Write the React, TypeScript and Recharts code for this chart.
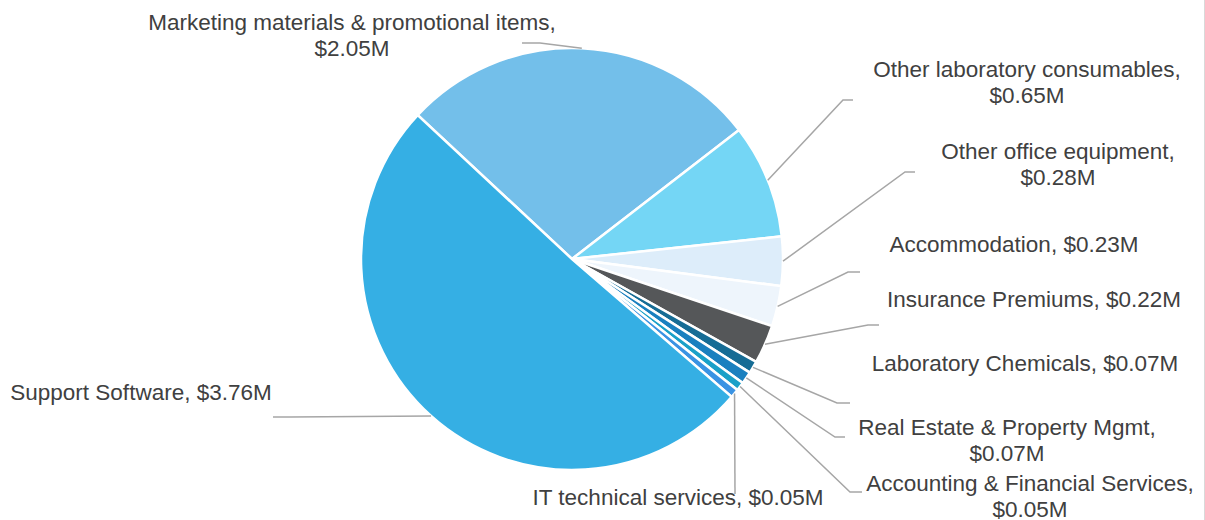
import React from 'react';
import { PieChart, Pie, Cell } from 'recharts';

const categories = [
  'Marketing materials & promotional items',
  'Other laboratory consumables',
  'Other office equipment',
  'Accommodation',
  'Insurance Premiums',
  'Laboratory Chemicals',
  'Real Estate & Property Mgmt',
  'Accounting & Financial Services',
  'IT technical services',
  'Support Software',
];

const spend = [2.05, 0.65, 0.28, 0.23, 0.22, 0.07, 0.07, 0.05, 0.05, 3.76];

const COLORS = [
  '#73BFEA',
  '#74D6F5',
  '#DDEDFA',
  '#EEF5FC',
  '#555759',
  '#166C95',
  '#1A80BF',
  '#1AA0C8',
  '#3A93E3',
  '#35AFE4',
];

// label placement relative to the pie centre (Excel-style outside labels)
// tx/ty: text centre + first baseline, ex/ey: elbow of leader, lx: leader end
const LABEL_LAYOUT = [
  { tx: -220, ty: -229, ex: -32, ey: -216, lx: -50, wrap: true },
  { tx: 455, ty: -182, ex: 271, ey: -159, lx: 281, wrap: true },
  { tx: 486, ty: -100, ex: 333, ey: -87, lx: 343, wrap: true },
  { tx: 442, ty: -7, ex: 276, ey: 13, lx: 288, wrap: false },
  { tx: 462, ty: 48, ex: 296, ey: 66, lx: 307, wrap: false },
  { tx: 453, ty: 112, ex: 265, ey: 144, lx: 278, wrap: false },
  { tx: 435, ty: 176, ex: 263, ey: 178, lx: 273, wrap: true },
  { tx: 458, ty: 232, ex: 278, ey: 233, lx: 290, wrap: true },
  { tx: 106, ty: 246, ex: 163, ey: 235, lx: 163, wrap: false },
  { tx: -431, ty: 141, ex: -282, ey: 158, lx: -299, wrap: false },
];

const data = categories.map((name, i) => ({ name, value: spend[i] }));

const RAD = Math.PI / 180;

const renderLabel = (props: any) => {
  const { cx, cy, midAngle, outerRadius, index } = props;
  const lay = LABEL_LAYOUT[index];
  const ax = cx + outerRadius * Math.cos(-midAngle * RAD);
  const ay = cy + outerRadius * Math.sin(-midAngle * RAD);
  const value = `$${spend[index].toFixed(2)}M`;
  const lines = lay.wrap
    ? [`${categories[index]},`, value]
    : [`${categories[index]}, ${value}`];
  return (
    <g key={`lbl-${index}`}>
      <polyline
        points={`${ax},${ay} ${cx + lay.ex},${cy + lay.ey} ${cx + lay.lx},${cy + lay.ey}`}
        fill="none"
        stroke="#A6A6A6"
        strokeWidth={1.5}
      />
      <text
        x={cx + lay.tx}
        y={cy + lay.ty}
        textAnchor="middle"
        fill="#404040"
        fontSize={22.5}
        fontFamily="'Liberation Sans', Arial, sans-serif"
      >
        {lines.map((ln, j) => (
          <tspan key={j} x={cx + lay.tx} dy={j === 0 ? 0 : 26}>
            {ln}
          </tspan>
        ))}
      </text>
    </g>
  );
};

export default function App() {
  return (
    <div
      style={{
        position: 'absolute',
        left: 0,
        top: 0,
        width: 1204,
        height: 520,
        borderRight: '1px solid #D9D9D9',
        background: '#fff',
      }}
    >
      <PieChart width={1204} height={520} margin={{ top: 0, right: 0, bottom: 0, left: 0 }}>
        <Pie
          data={data}
          dataKey="value"
          nameKey="name"
          cx={572}
          cy={259}
          outerRadius={211}
          startAngle={137}
          endAngle={-223}
          stroke="#FFFFFF"
          strokeWidth={2.5}
          label={renderLabel}
          labelLine={false}
          isAnimationActive={false}
        >
          {data.map((entry, index) => (
            <Cell key={`cell-${index}`} fill={COLORS[index]} />
          ))}
        </Pie>
      </PieChart>
    </div>
  );
}
